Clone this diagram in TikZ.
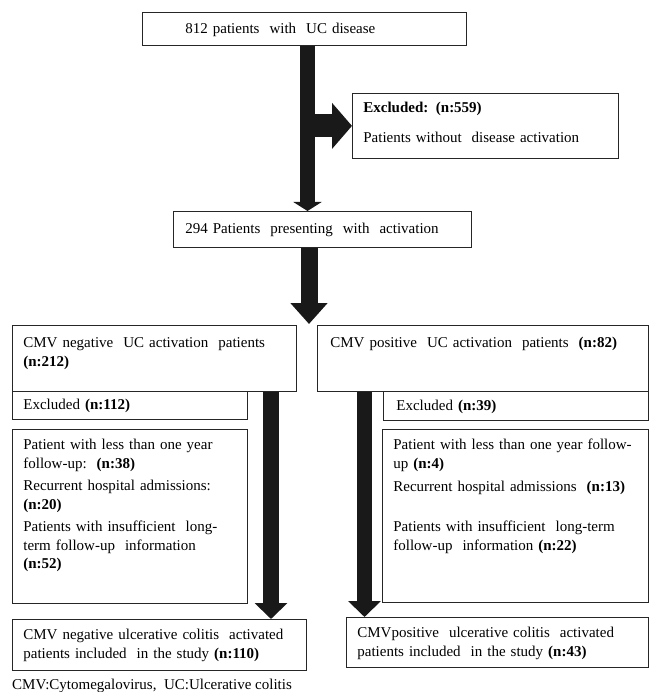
\documentclass[tikz,border=0pt]{standalone}
\usepackage{fontspec}
\setmainfont{Liberation Serif}
\usetikzlibrary{arrows.meta}

\begin{document}
\begin{tikzpicture}[x=1pt,y=-1pt,
		box/.style={draw=black!85,line width=0.8pt,anchor=north west,inner ysep=0pt,
			align=left,font=\fontsize{15}{18.5}\selectfont},
		dims/.style n args={4}{inner xsep=#1,text width=#2,text height=#3,text depth=#4},
		fat/.style n args={3}{draw=black!90,line width=#1,-{Triangle[width=#2,length=#3]}}]
	\useasboundingbox (0,0) rectangle (651,692);
	% top part
	\node[box,dims={43pt}{238pt}{21.5pt}{11.5pt}] (all) at (142,12) {812 patients\ \ with\ \ UC disease};
	\node[box,dims={11pt}{244pt}{19.5pt}{45.5pt}] (exc) at (352,93)
		{\textbf{Excluded: (n:559)}\\[11.5pt]Patients without\ \ disease activation};
	\node[box,dims={12pt}{274pt}{22.5pt}{13.5pt}] (act) at (173,211) {294 Patients\ \ presenting\ \ with\ \ activation};
	% two groups
	\node[box,dims={11pt}{262pt}{22.5pt}{43.5pt}] (neg) at (12,325)
		{CMV negative\ \ UC activation\ \ patients\\\textbf{(n:212)}};
	\node[box,dims={13pt}{305pt}{22.5pt}{43.5pt}] (pos) at (317,325)
		{CMV positive\ \ UC activation\ \ patients\ \ \textbf{(n:82)}};
	\node[box,dims={11pt}{213pt}{18.5pt}{9.5pt}] (negex) at (12,391) {Excluded \textbf{(n:112)}};
	\node[box,dims={13pt}{239pt}{19.5pt}{9.5pt}] (posex) at (383,391) {Excluded \textbf{(n:39)}};
	\node[box,dims={11pt}{213pt}{20.5pt}{153.5pt}] (neglist) at (12,429)
		{Patient with less than one year\\follow-up:\ \ \textbf{(n:38)}\\[4pt]
		Recurrent hospital admissions:\\\textbf{(n:20)}\\[4pt]
		Patients with insufficient\ \ long-\\term follow-up\ \ information\\\textbf{(n:52)}};
	\node[box,dims={11pt}{244pt}{20.5pt}{152.5pt}] (poslist) at (382,429)
		{Patient with less than one year follow-\\up \textbf{(n:4)}\\[5pt]
		Recurrent hospital admissions\ \ \textbf{(n:13)}\\[21.5pt]
		Patients with insufficient\ \ long-term\\follow-up\ \ information \textbf{(n:22)}};
	\node[box,dims={11pt}{272pt}{20.5pt}{30.5pt}] (negin) at (12,619)
		{CMV negative ulcerative colitis\ \ activated\\patients included\ \ in the study \textbf{(n:110)}};
	\node[box,dims={11pt}{280pt}{20.5pt}{29.5pt}] (posin) at (346,617)
		{CMVpositive\ \ ulcerative colitis\ \ activated\\patients included\ \ in the study \textbf{(n:43)}};
	\node[anchor=base west,inner sep=0pt,font=\fontsize{15}{18.5}\selectfont] (note) at (12,689)
		{CMV:Cytomegalovirus,\ \ UC:Ulcerative colitis};
	% block arrows
	\coordinate (trunk) at (307.5,0);
	\coordinate (split) at (309,324);
	\draw[fat={15pt}{28pt}{9pt}] (all.south -| trunk) -- (act.north -| trunk);
	\draw[fat={23pt}{45pt}{20pt}] (exc.west -| trunk) -- (exc.west);
	\draw[fat={17pt}{36pt}{21pt}] (act.south -| split) -- (split);
	\foreach \a/\b/\x in {neg/negin/271,pos/posin/364.5}
		\draw[fat={15.5pt}{32pt}{16pt}] (\a.south -| \x,0) -- (\b.north -| \x,0);
\end{tikzpicture}
\end{document}
